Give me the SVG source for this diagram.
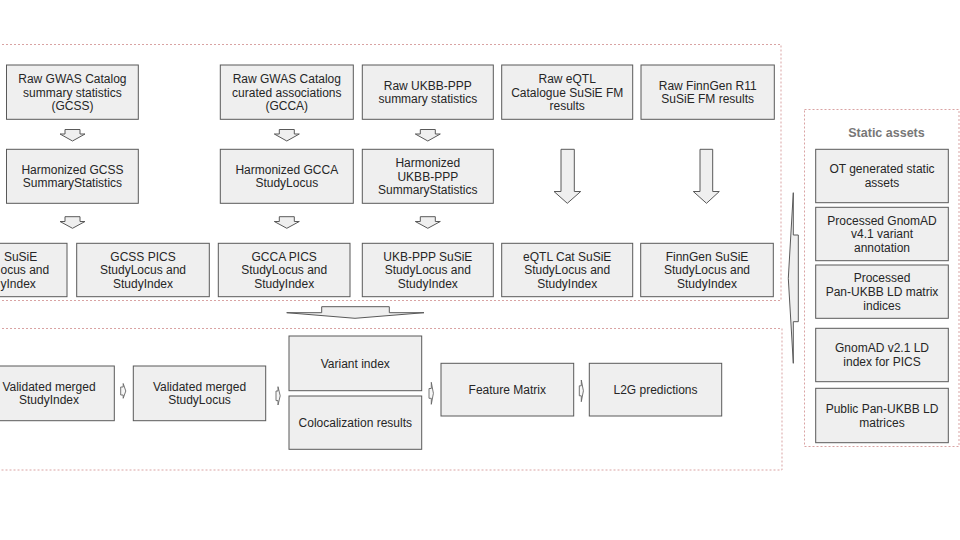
<svg xmlns="http://www.w3.org/2000/svg" width="960" height="540" viewBox="0 0 960 540">
<style>
.bg{fill:#ffffff}
.grp{fill:none;stroke:#d9a3a3;stroke-width:1;stroke-dasharray:2,2}
.box{fill:#efefef;stroke:#595959;stroke-width:1}
.arr{fill:#efefef;stroke:#595959;stroke-width:1;stroke-linejoin:miter}
.sarr{fill:#f7f7f7;stroke:#666666;stroke-width:0.9}
text{font-family:"Liberation Sans",Arial,sans-serif;font-size:12px;fill:#262626;text-anchor:middle}
.title{font-size:12.5px;font-weight:bold;fill:#777777}
</style>
<rect class="bg" x="0" y="0" width="960" height="540"/>
<g id="containers">
<rect class="grp" x="-10" y="44.5" width="791" height="256"/>
<rect class="grp" x="-10" y="328.5" width="792" height="141.5"/>
<rect class="grp" x="804.5" y="109.5" width="154.5" height="337"/>
</g>
<g id="connectors">
<polygon class="arr" points="65,129.5 80,129.5 80,134 85,134 72.5,141 60,134 65,134"/>
<polygon class="arr" points="65,216.7 80,216.7 80,221.5 85,221.5 72.5,228.3 60,221.5 65,221.5"/>
<polygon class="arr" points="279.3,129.5 294.3,129.5 294.3,134 299.3,134 286.8,141 274.3,134 279.3,134"/>
<polygon class="arr" points="279.3,216.7 294.3,216.7 294.3,221.5 299.3,221.5 286.8,228.3 274.3,221.5 279.3,221.5"/>
<polygon class="arr" points="420.3,129.5 435.3,129.5 435.3,134 440.3,134 427.8,141 415.3,134 420.3,134"/>
<polygon class="arr" points="420.3,216.7 435.3,216.7 435.3,221.5 440.3,221.5 427.8,228.3 415.3,221.5 420.3,221.5"/>
<polygon class="arr" points="561,149.3 574.3,149.3 574.3,191.5 580.7,191.5 567.3,203.3 554,191.5 561,191.5"/>
<polygon class="arr" points="700,149.3 712.7,149.3 712.7,191.5 719.3,191.5 706.5,203.3 693.3,191.5 700,191.5"/>
<polygon class="arr" points="321.7,306.7 389.3,306.7 389.3,312.7 424,312.7 355,318.3 286.7,312.7 321.7,312.7"/>
<polygon class="arr" points="798.3,235 793.3,235 793.3,192.7 788.3,278.3 793.3,363.3 793.3,321.7 798.3,321.7"/>
<polygon class="sarr" points="120.7,387 123.2,387 123.2,383.5 125.8,391 123.2,398.3 123.2,395 120.7,395"/>
<polygon class="sarr" points="276,391 278,391 278,386.7 280.2,395.8 278,405 278,400.6 276,400.6"/>
<polygon class="sarr" points="429,388.5 431.3,388.5 431.3,382.3 433.4,393.3 431.3,404.3 431.3,398.3 429,398.3"/>
<polygon class="sarr" points="579.3,385.8 581.3,385.8 581.3,380 583.4,390.8 581.3,401.7 581.3,395.8 579.3,395.8"/>
</g>
<g id="n-raw-gcss"><rect class="box" x="6.5" y="65" width="131.8" height="54.3"/><text x="72.4" y="82.8">Raw GWAS Catalog</text><text x="72.4" y="96.5">summary statistics</text><text x="72.4" y="110.2">(GCSS)</text></g>
<g id="n-raw-gcca"><rect class="box" x="220.3" y="65" width="133" height="54.3"/><text x="286.8" y="82.8">Raw GWAS Catalog</text><text x="286.8" y="96.5">curated associations</text><text x="286.8" y="110.2">(GCCA)</text></g>
<g id="n-raw-ukbb"><rect class="box" x="362.3" y="65" width="131" height="54.3"/><text x="427.8" y="89.6">Raw UKBB-PPP</text><text x="427.8" y="103.3">summary statistics</text></g>
<g id="n-raw-eqtl"><rect class="box" x="501.7" y="65" width="131" height="54.3"/><text x="567.2" y="82.8">Raw eQTL</text><text x="567.2" y="96.5">Catalogue SuSiE FM</text><text x="567.2" y="110.2">results</text></g>
<g id="n-raw-finngen"><rect class="box" x="641" y="65" width="133.3" height="54.3"/><text x="707.7" y="89.6">Raw FinnGen R11</text><text x="707.7" y="103.3">SuSiE FM results</text></g>
<g id="n-harm-gcss"><rect class="box" x="6.5" y="149.3" width="131.8" height="54"/><text x="72.4" y="173.6">Harmonized GCSS</text><text x="72.4" y="187.3">SummaryStatistics</text></g>
<g id="n-harm-gcca"><rect class="box" x="220.3" y="149.3" width="133" height="54"/><text x="286.8" y="173.6">Harmonized GCCA</text><text x="286.8" y="187.3">StudyLocus</text></g>
<g id="n-harm-ukbb"><rect class="box" x="362.3" y="149.3" width="131" height="54"/><text x="427.8" y="166.8">Harmonized</text><text x="427.8" y="180.5">UKBB-PPP</text><text x="427.8" y="194.2">SummaryStatistics</text></g>
<g id="n-gcss-susie"><rect class="box" x="-66" y="243.3" width="133" height="53.4"/><text x="37.3" y="260.6" style="text-anchor:end">SuSiE</text><text x="0.5" y="274.3" style="text-anchor:start">ocus and</text><text x="0.5" y="288" style="text-anchor:start">yIndex</text></g>
<g id="n-gcss-pics"><rect class="box" x="76.7" y="243.3" width="132.6" height="53.4"/><text x="143" y="260.6">GCSS PICS</text><text x="143" y="274.3">StudyLocus and</text><text x="143" y="288">StudyIndex</text></g>
<g id="n-gcca-pics"><rect class="box" x="218.3" y="243.3" width="131.7" height="53.4"/><text x="284.2" y="260.6">GCCA PICS</text><text x="284.2" y="274.3">StudyLocus and</text><text x="284.2" y="288">StudyIndex</text></g>
<g id="n-ukb-susie"><rect class="box" x="362.3" y="243.3" width="131" height="53.4"/><text x="427.8" y="260.6">UKB-PPP SuSiE</text><text x="427.8" y="274.3">StudyLocus and</text><text x="427.8" y="288">StudyIndex</text></g>
<g id="n-eqtl-susie"><rect class="box" x="501.7" y="243.3" width="131" height="53.4"/><text x="567.2" y="260.6">eQTL Cat SuSiE</text><text x="567.2" y="274.3">StudyLocus and</text><text x="567.2" y="288">StudyIndex</text></g>
<g id="n-finngen-susie"><rect class="box" x="640.7" y="243.3" width="132.6" height="53.4"/><text x="707" y="260.6">FinnGen SuSiE</text><text x="707" y="274.3">StudyLocus and</text><text x="707" y="288">StudyIndex</text></g>
<g id="n-val-studyindex"><rect class="box" x="-18.4" y="366" width="132.7" height="54.7"/><text x="49" y="390.5">Validated merged</text><text x="49" y="404.2">StudyIndex</text></g>
<g id="n-val-studylocus"><rect class="box" x="133.3" y="366" width="132.4" height="54.7"/><text x="199.5" y="390.5">Validated merged</text><text x="199.5" y="404.2">StudyLocus</text></g>
<g id="n-variant-index"><rect class="box" x="289" y="336" width="132.7" height="54.7"/><text x="355.3" y="367.6">Variant index</text></g>
<g id="n-coloc"><rect class="box" x="289" y="396" width="132.7" height="53.3"/><text x="355.3" y="427">Colocalization results</text></g>
<g id="n-feature-matrix"><rect class="box" x="441" y="363.3" width="132.7" height="52.7"/><text x="507.3" y="394">Feature Matrix</text></g>
<g id="n-l2g"><rect class="box" x="589.3" y="363.3" width="132.4" height="52.7"/><text x="655.5" y="394">L2G predictions</text></g>
<g id="n-static-title"><text class="title" x="886.5" y="136.8">Static assets</text></g>
<g id="n-ot-static"><rect class="box" x="815.7" y="149.3" width="132.6" height="53.4"/><text x="882" y="173.3">OT generated static</text><text x="882" y="187">assets</text></g>
<g id="n-gnomad-v41"><rect class="box" x="815.7" y="207.3" width="132.6" height="53.4"/><text x="882" y="224.6">Processed GnomAD</text><text x="882" y="238.3">v4.1 variant</text><text x="882" y="252">annotation</text></g>
<g id="n-panukbb-idx"><rect class="box" x="815.7" y="265" width="132.6" height="53.3"/><text x="882" y="282.3">Processed</text><text x="882" y="296">Pan-UKBB LD matrix</text><text x="882" y="309.7">indices</text></g>
<g id="n-gnomad-v21"><rect class="box" x="815.7" y="328.3" width="132.6" height="53.4"/><text x="882" y="352.4">GnomAD v2.1 LD</text><text x="882" y="366.1">index for PICS</text></g>
<g id="n-public-panukbb"><rect class="box" x="815.7" y="388.3" width="132.6" height="54.4"/><text x="882" y="412.8">Public Pan-UKBB LD</text><text x="882" y="426.5">matrices</text></g>
</svg>
